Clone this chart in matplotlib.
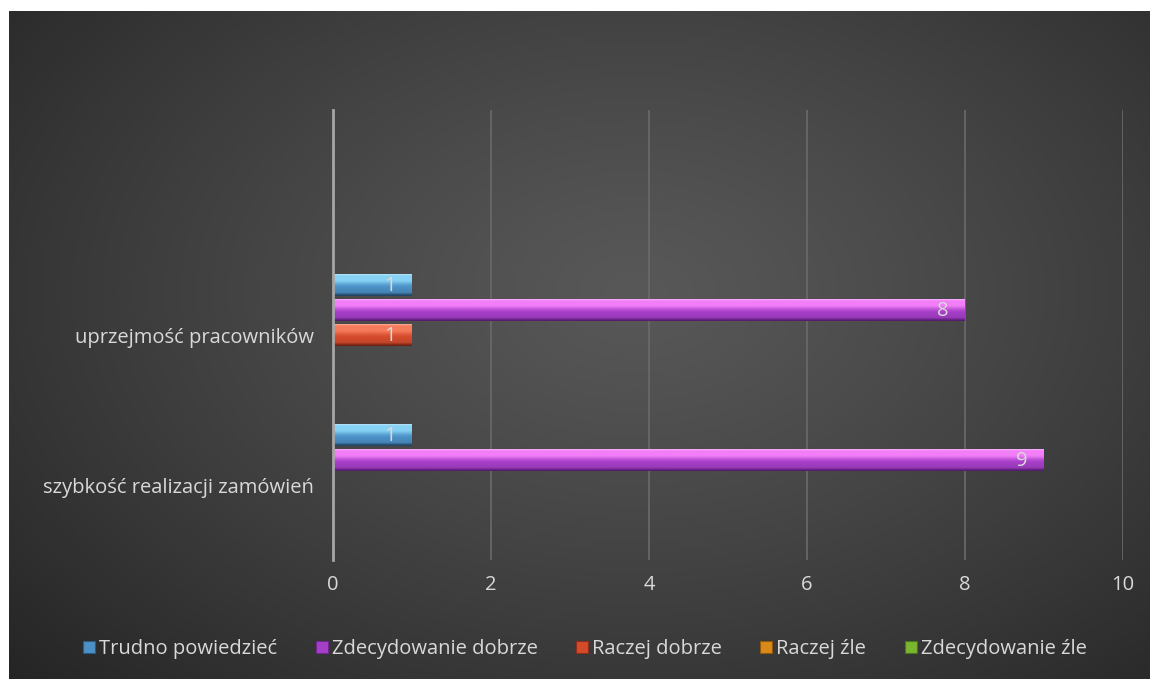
import numpy as np
import matplotlib
matplotlib.use("Agg")
import matplotlib.pyplot as plt
from matplotlib.patches import Patch
from matplotlib.colors import to_rgb

# ---- data ----
categories = ["szybkość realizacji zamówień", "uprzejmość pracowników", ""]
series_names = ["Trudno powiedzieć", "Zdecydowanie dobrze", "Raczej dobrze", "Raczej źle", "Zdecydowanie źle"]
trudno = [1, 1, None]
zdec_dobrze = [9, 8, None]
raczej_dobrze = [None, 1, None]
raczej_zle = [None, None, None]
zdec_zle = [None, None, None]
x_ticks = [0, 2, 4, 6, 8, 10]

series_values = [trudno, zdec_dobrze, raczej_dobrze, raczej_zle, zdec_zle]
base_colors = ["#4b90c6", "#a63fc8", "#d44b2c", "#d98a1a", "#79b52e"]
light_colors = ["#86d2f4", "#f27ef8", "#f67b5b", "#f6c24a", "#b4e26a"]
dark_colors = ["#2c5a80", "#712690", "#8e2e1a", "#92590e", "#4a7618"]

FONT = ["Open Sans", "DejaVu Sans"]
TXT = "#d9d9d9"
FS = 14.5

W, H = 1150, 679
fig = plt.figure(figsize=(W / 100, H / 100), dpi=100)
fig.patch.set_facecolor("white")

# background radial gradient panel
bg = fig.add_axes([9 / W, 0, (W - 9) / W, (H - 11) / H], zorder=-10)
yy, xx = np.mgrid[0:1:400j, 0:1:700j]
r = np.sqrt(((xx - 0.55) / 0.75) ** 2 + ((yy - 0.42) / 0.85) ** 2)
r = np.clip(r, 0, 1)
v = 0.345 - (0.345 - 0.145) * r ** 1.2
bg.imshow(np.dstack([v, v, v]), aspect="auto", extent=[0, 1, 1, 0], interpolation="bilinear")
bg.set_axis_off()

ax = fig.add_axes([333 / W, 119 / H, 790 / W, 450 / H])
ax.set_facecolor("none")

y = np.arange(len(categories))
slot = 1 / 6
bh = slot * 0.88
offsets = [2 * slot, slot, 0, -slot, -2 * slot]


def gradient_image(c, lc, dc):
    c, lc, dc = map(lambda q: np.array(to_rgb(q)), (c, lc, dc))
    # rows from top (0) to bottom (1)
    stops = [(0.0, lc * 0.6 + 0.4), (0.08, lc), (0.3, lc), (0.5, c * 0.8 + lc * 0.2),
             (0.6, c), (0.85, c * 0.92), (0.92, dc), (1.0, dc * 0.7)]
    t = np.linspace(0, 1, 80)
    rows = np.zeros((80, 3))
    for k in range(3):
        rows[:, k] = np.interp(t, [s[0] for s in stops], [s[1][k] for s in stops])
    return np.clip(rows[:, None, :], 0, 1)


for vals, off, c, lc, dc in zip(series_values, offsets, base_colors, light_colors, dark_colors):
    vv = np.array([np.nan if v is None else v for v in vals], dtype=float)
    yc = y + off
    bars = ax.barh(yc, vv, height=bh, color=c, edgecolor="none", zorder=3)
    grad = gradient_image(c, lc, dc)
    for rect in bars:
        x0, y0 = rect.get_x(), rect.get_y()
        w, h = rect.get_width(), rect.get_height()
        if np.isnan(w) or w <= 0:
            continue
        im = ax.imshow(grad, extent=[x0, x0 + w, y0, y0 + h], aspect="auto",
                       interpolation="bilinear", zorder=4, origin="upper")
        im.set_clip_path(rect)
    for yi, val in zip(yc, vv):
        if not np.isnan(val) and val > 0:
            ax.text(val - 0.28, yi - 0.005, f"{int(val)}", ha="center", va="center",
                    color=TXT, fontsize=FS, family=FONT, zorder=6)

ax.set_xlim(0, 10)
ax.set_ylim(-0.5, 2.5)
ax.set_xticks(x_ticks)
ax.set_xticklabels([str(t) for t in x_ticks], family=FONT, fontsize=FS, color=TXT)
ax.set_yticks(y)
ax.set_yticklabels(categories, family=FONT, fontsize=FS, color=TXT)
ax.tick_params(axis="x", length=0, pad=18)
ax.tick_params(axis="y", length=0, pad=14)
for t in ax.get_xticklabels():
    t.set_verticalalignment("center")
ax.xaxis.grid(True, color="#6a6a6a", linewidth=1.2, zorder=0)
ax.set_axisbelow(True)
for s in ["top", "right", "bottom"]:
    ax.spines[s].set_visible(False)
ax.spines["left"].set_color("#a6a6a6")
ax.spines["left"].set_linewidth(2)
ax.spines["left"].set_zorder(5)

handles = [Patch(facecolor=c, edgecolor=dc, linewidth=0.8) for c, dc in zip(base_colors, dark_colors)]
fig.legend(handles, series_names, loc="center", bbox_to_anchor=(585 / W, 1 - 649 / H),
           ncol=5, frameon=False, prop={"family": FONT, "size": FS},
           handlelength=0.6, handleheight=0.6, handletextpad=0.2, columnspacing=1.9,
           labelcolor=TXT)

fig.savefig("out.png", dpi=100)
